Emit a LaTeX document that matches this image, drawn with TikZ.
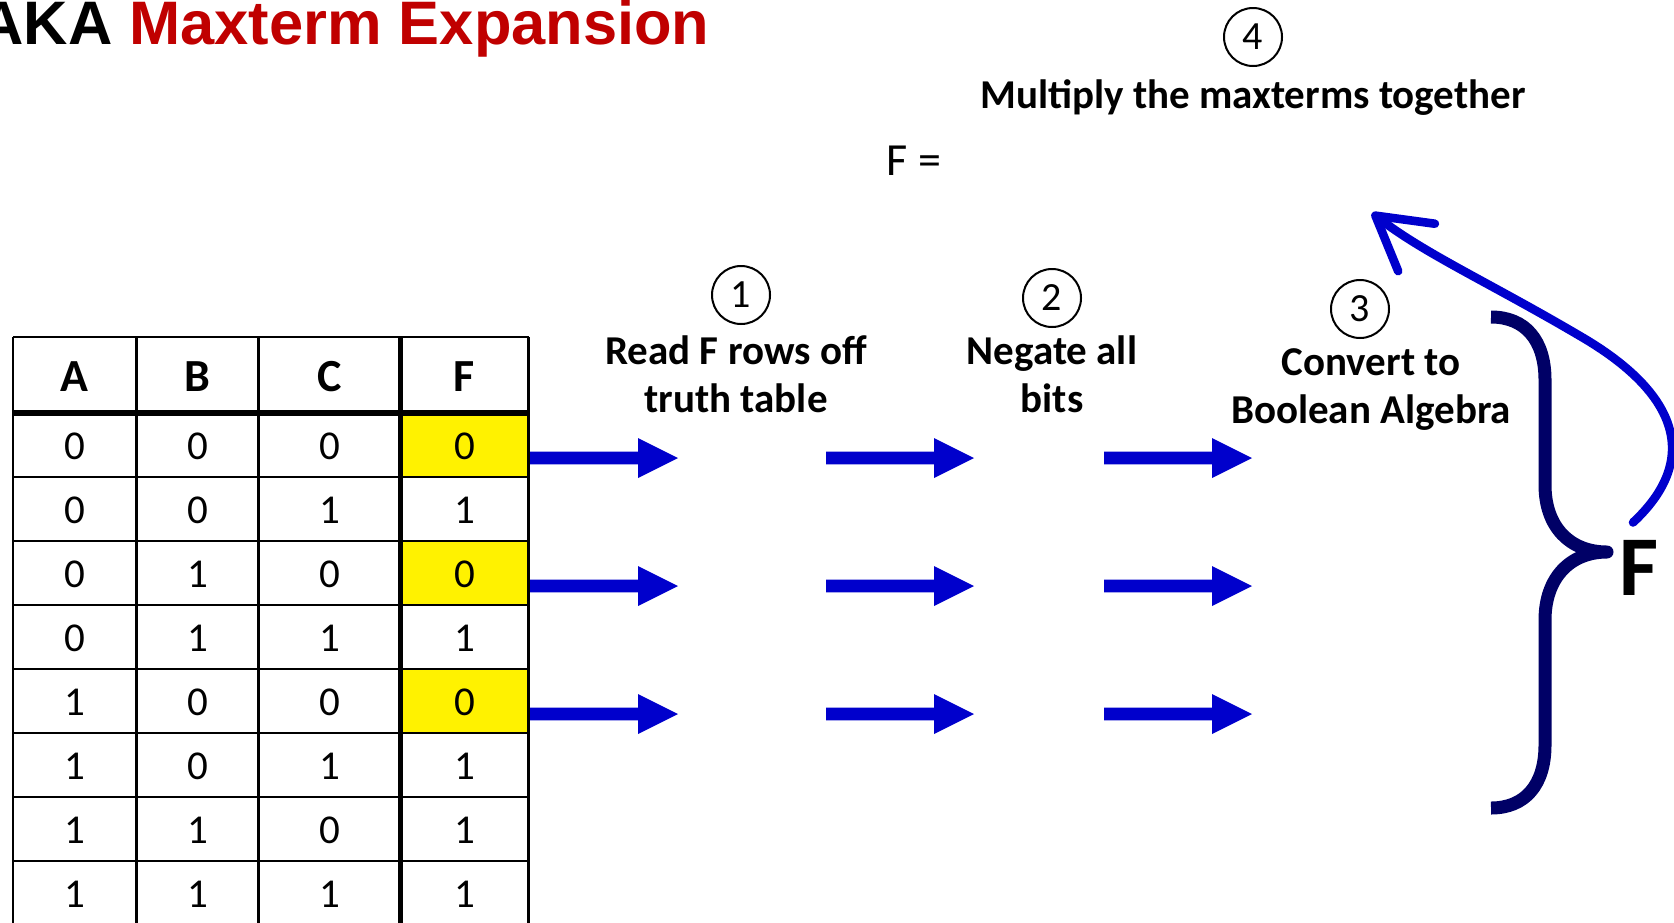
\documentclass[tikz,border=0pt]{standalone}
\usepackage{fontspec}
\setmainfont{Carlito}
\newfontfamily\titlefont{Liberation Sans}
\usetikzlibrary{arrows.meta}
\definecolor{arrowblue}{RGB}{0,0,204}
\definecolor{bracenavy}{RGB}{0,0,102}
\definecolor{titlered}{RGB}{192,0,0}

\begin{document}
\begin{tikzpicture}[x=0.5pt,y=-0.5pt,
    thinrule/.style={line width=1.3pt},
    thickrule/.style={line width=2.6pt},
    cell/.style={font=\fontsize{20.5}{24}\selectfont, inner sep=0pt},
    headcell/.style={font=\bfseries\fontsize{23}{27}\selectfont, inner sep=0pt},
    stepnum/.style={draw, circle, line width=1pt, minimum size=29pt, inner sep=0pt, font=\fontsize{20}{24}\selectfont},
    steptext/.style={font=\bfseries\fontsize{20.5}{24}\selectfont, align=center, inner sep=0pt},
    bitarrow/.style={fill=arrowblue}]
  \useasboundingbox (0,0) rectangle (1674,922);

  % title
  \node[anchor=base west, inner sep=0pt, font=\titlefont\bfseries\fontsize{30.7}{36}\selectfont] (title) at (-21,44) {AKA \textcolor{titlered}{Maxterm Expansion}};

  % truth table
  \foreach \r in {1,3,5}
    \fill[yellow] (400.4,{413+64*(\r-1)}) rectangle (528.5,{413+64*\r});
  \foreach \x in {12.8,136.7,258.4,528.5}
    \draw[thinrule] (\x,337) -- (\x,925);
  \draw[thickrule] (400.4,337) -- (400.4,925);
  \draw[thinrule] (12.8,337) -- (528.5,337);
  \draw[thickrule] (12.8,413) -- (528.5,413);
  \foreach \r in {1,...,7}
    \draw[thinrule] (12.8,{413+64*\r}) -- (528.5,{413+64*\r});

  \foreach \col/\x in {A/74.7,B/197.5,C/329.4,F/464.4}
    \node[headcell] (h\col) at (\x,377) {\col};
  \foreach \a/\b/\cin/\f [count=\r] in {0/0/0/0,0/0/1/1,0/1/0/0,0/1/1/1,1/0/0/0,1/0/1/1,1/1/0/1,1/1/1/1} {
    \node[cell] (a\r) at (74.7,{446+64*(\r-1)}) {\a};
    \node[cell] (b\r) at (197.5,{446+64*(\r-1)}) {\b};
    \node[cell] (c\r) at (329.4,{446+64*(\r-1)}) {\cin};
    \node[cell] (f\r) at (464.4,{446+64*(\r-1)}) {\f};
  }

  % block arrows for the three 0 rows
  \foreach \y in {458,586,714}
    \foreach \x in {530,826,1104}
      \fill[bitarrow] (\x,{\y-6.3}) -- ++(108,0) -- ++(0,-13.7) -- ++(40,20) -- ++(-40,20) -- ++(0,-13.7) -- ++(-108,0) -- cycle;

  % steps
  \node[stepnum] (n1) at (741,295) {1};
  \node[steptext, anchor=base] (s1) at (736,412) {Read F rows off\\truth table};
  \node[stepnum] (n2) at (1052,298) {2};
  \node[steptext, anchor=base] (s2) at (1052,412) {Negate all\\bits};
  \node[stepnum] (n3) at (1360,309) {3};
  \node[steptext, anchor=base] (s3) at (1371,423) {Convert to\\Boolean Algebra};
  \node[stepnum] (n4) at (1253,37) {4};
  \node[steptext, anchor=base] (s4) at (1253,108) {Multiply the maxterms together};
  \node[anchor=base, inner sep=0pt, font=\fontsize{23}{27}\selectfont] (feq) at (914,175) {F =};

  % brace and F
  \draw[bracenavy, line width=6.5pt, line join=round] (1491,317) .. controls (1525,317) and (1545,340) .. (1545,380) -- (1545,485) .. controls (1545,527) and (1570,552) .. (1607,552) .. controls (1570,552) and (1545,578) .. (1545,620) -- (1545,745) .. controls (1545,785) and (1525,808) .. (1491,808);
  \node[anchor=base, inner sep=0pt, font=\bfseries\fontsize{42.5}{50}\selectfont] (fout) at (1639,595) {F};

  \coordinate (prodtip) at (1372,213);
  \draw[arrowblue, line width=4.3pt, line cap=round, -{Straight Barb[length=26pt,width=30pt,round]}] ([xshift=-3pt,yshift=8.5pt]fout.north) .. controls (1700,460) and (1680,394) .. (1580,336) .. controls (1490,283) and (1425,254) .. (prodtip);
\end{tikzpicture}
\end{document}
